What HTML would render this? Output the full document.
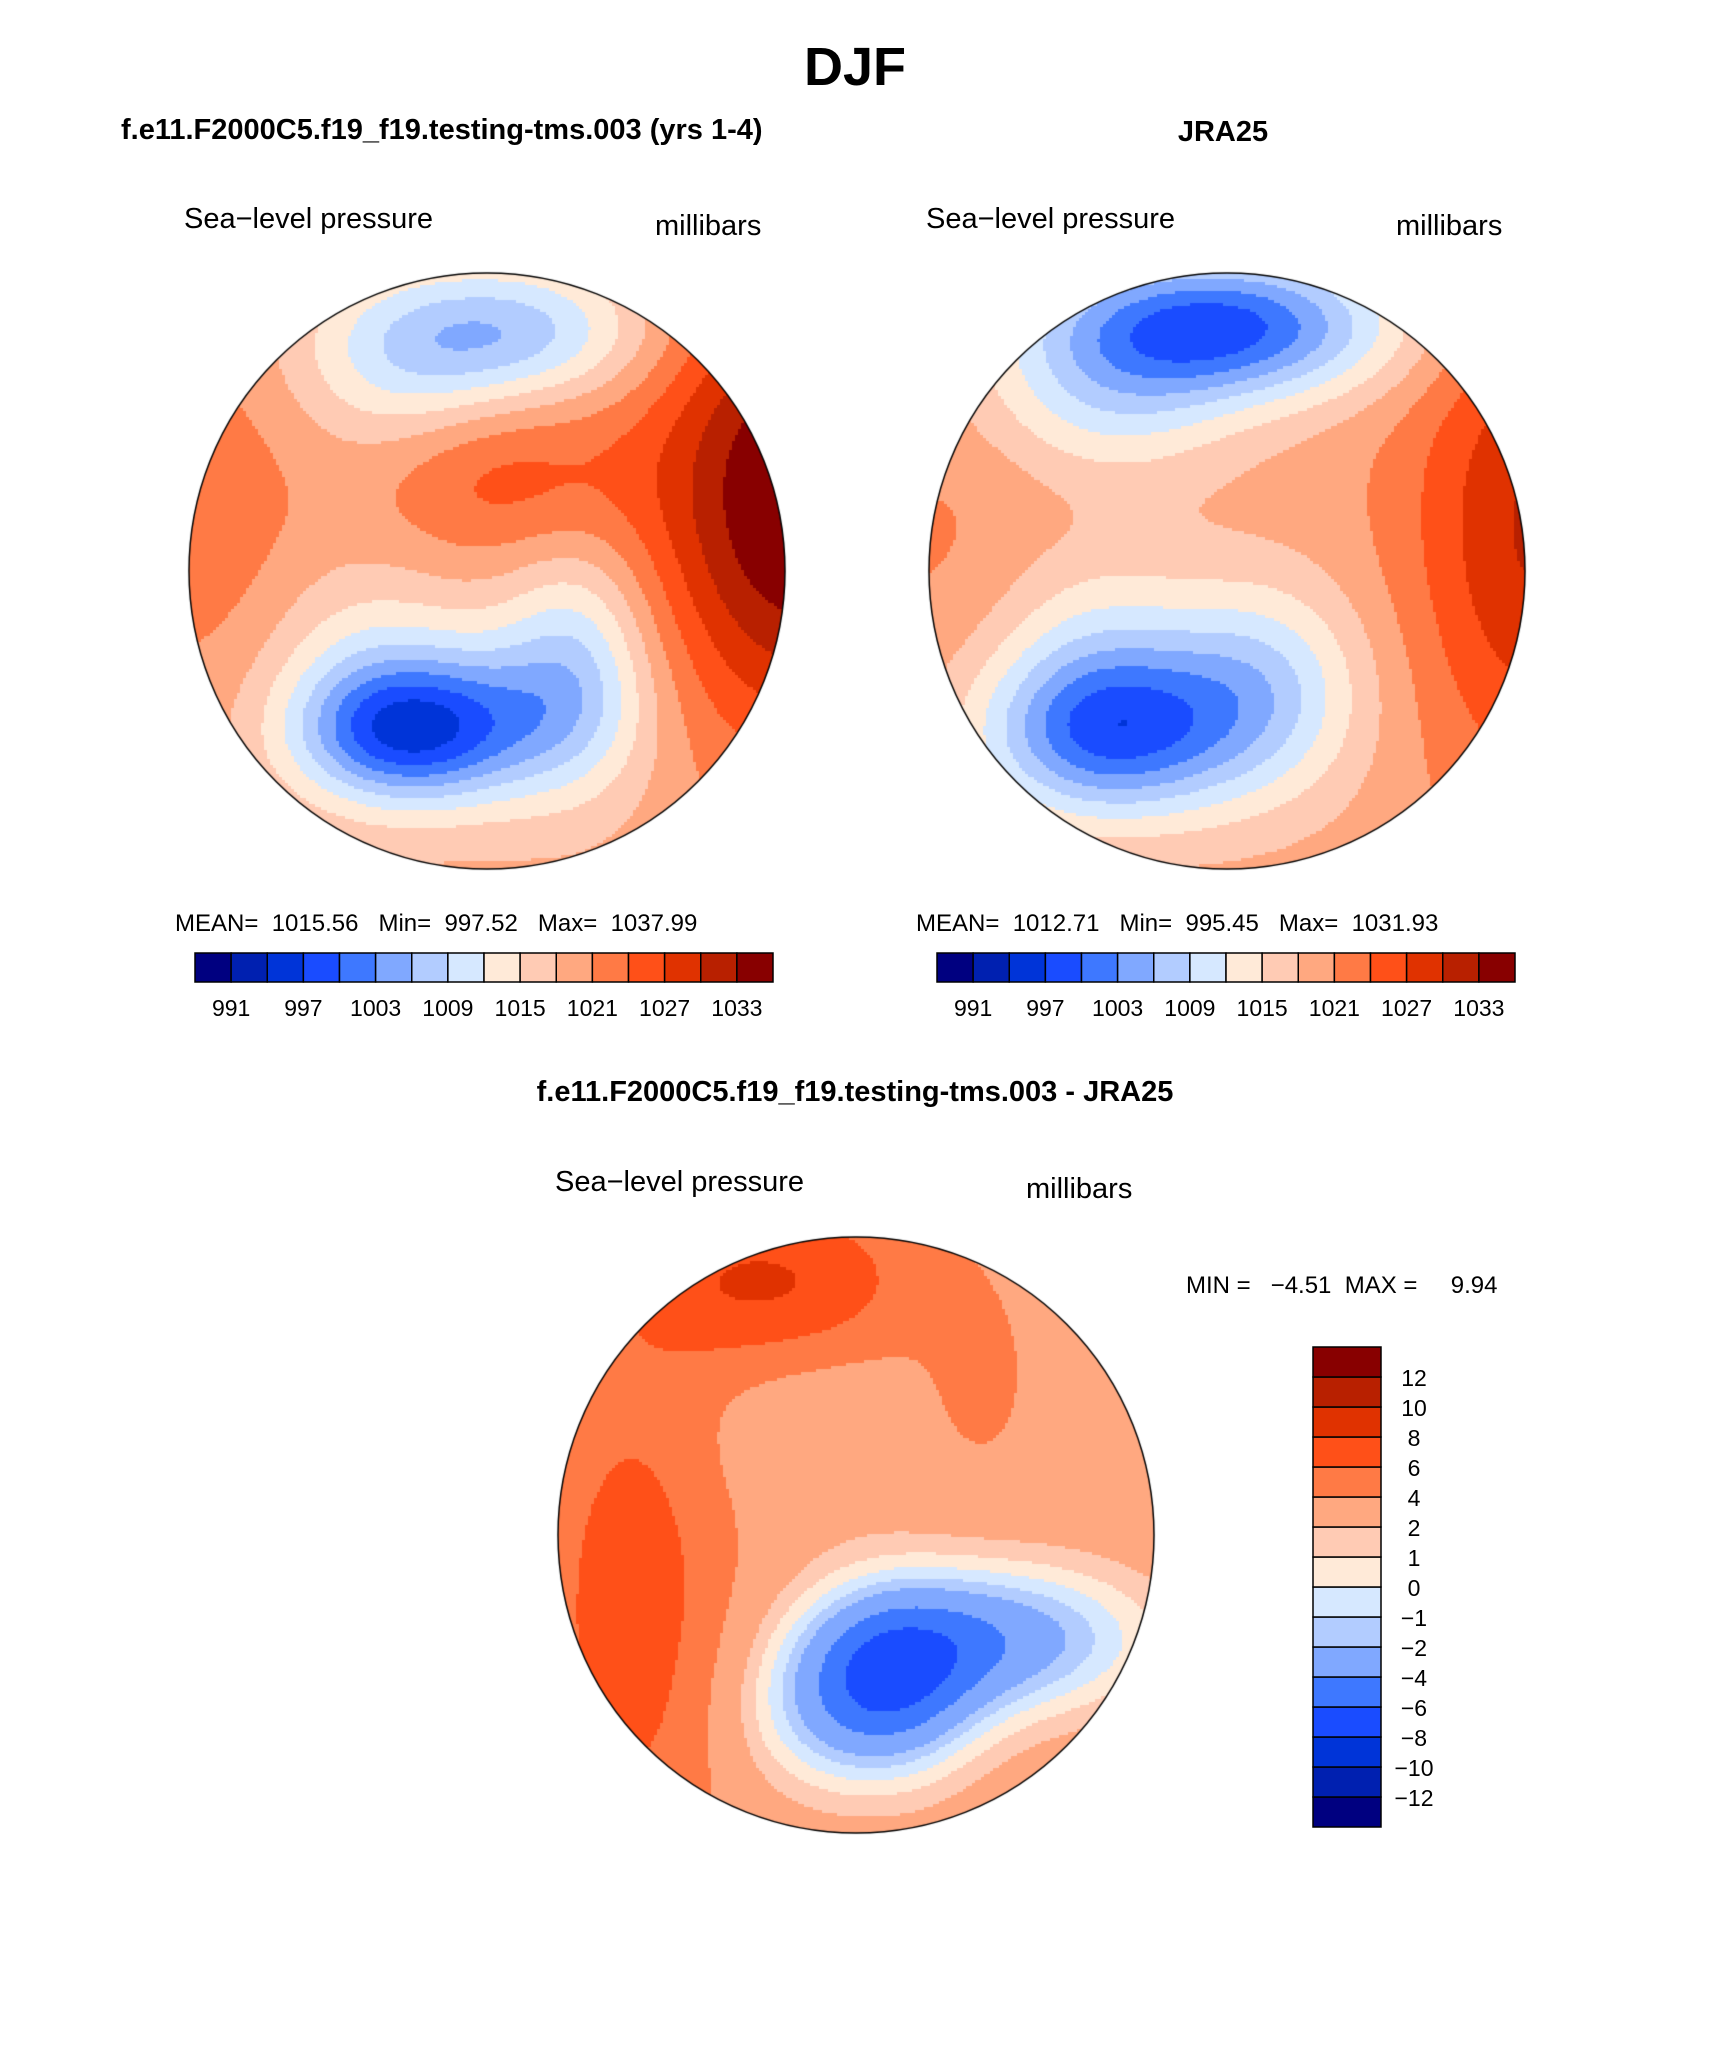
<!DOCTYPE html>
<html><head><meta charset="utf-8">
<style>
html,body{margin:0;padding:0;background:#fff;}
#page{position:relative;width:1710px;height:2061px;overflow:hidden;font-family:"Liberation Sans",sans-serif;color:#000;}
.t{position:absolute;white-space:nowrap;}
.b{font-weight:bold;}
canvas{position:absolute;}
</style></head>
<body>
<div id="page">
<div class="t b" style="left:0;width:1710px;text-align:center;top:36px;font-size:54px;">DJF</div>
<div class="t b" style="left:121px;top:114px;font-size:29px;">f.e11.F2000C5.f19_f19.testing-tms.003 (yrs 1-4)</div>
<div class="t b" style="left:1123px;width:200px;text-align:center;top:116px;font-size:29px;">JRA25</div>
<div class="t" style="left:184px;top:203px;font-size:29px;">Sea−level pressure</div>
<div class="t" style="left:655px;top:210px;font-size:29px;">millibars</div>
<div class="t" style="left:926px;top:203px;font-size:29px;">Sea−level pressure</div>
<div class="t" style="left:1396px;top:210px;font-size:29px;">millibars</div>
<canvas id="m1" width="600" height="600" style="left:187px;top:271px;"></canvas>
<canvas id="m2" width="600" height="600" style="left:927px;top:271px;"></canvas>
<div class="t" style="left:175px;top:910px;font-size:24px;">MEAN=&nbsp; 1015.56&nbsp;&nbsp; Min=&nbsp; 997.52&nbsp;&nbsp; Max=&nbsp; 1037.99</div>
<div class="t" style="left:916px;top:910px;font-size:24px;">MEAN=&nbsp; 1012.71&nbsp;&nbsp; Min=&nbsp; 995.45&nbsp;&nbsp; Max=&nbsp; 1031.93</div>
<svg id="cb1" style="position:absolute;left:0;top:0" width="1710" height="2061"></svg>
<div class="t b" style="left:0;width:1710px;text-align:center;top:1076px;font-size:29px;">f.e11.F2000C5.f19_f19.testing-tms.003 - JRA25</div>
<div class="t" style="left:555px;top:1166px;font-size:29px;">Sea−level pressure</div>
<div class="t" style="left:1026px;top:1173px;font-size:29px;">millibars</div>
<canvas id="m3" width="600" height="600" style="left:556px;top:1235px;"></canvas>
<div class="t" style="left:1186px;top:1272px;font-size:24px;">MIN =&nbsp;&nbsp; −4.51&nbsp; MAX =&nbsp;&nbsp;&nbsp;&nbsp; 9.94</div>
</div>
<script>
const colors=["#000080","#0020b0","#0034d8","#1a4cff","#3e78ff","#80a8ff","#b2ccff","#d6e8ff","#ffead8","#ffcbb4","#ffa880","#ff7a45","#ff5018","#e03200","#b82000","#880000"];
const slpLevels=[991,994,997,1000,1003,1006,1009,1012,1015,1018,1021,1024,1027,1030,1033];
const slpTickLabels=["991","997","1003","1009","1015","1021","1027","1033"];
const diffLevels=[-12,-10,-8,-6,-4,-2,-1,0,1,2,4,6,8,10,12];
const diffTickLabels=["−12","−10","−8","−6","−4","−2","−1","0","1","2","4","6","8","10","12"];
// pressure systems: [u, v, amplitude, sigmaU, sigmaV]
const modelBase=1019;
const modelCenters=[[-0.3,0.55,-14,0.25,0.16],[0.0,0.5,-10,0.3,0.2],[0.3,0.3,-9,0.18,0.28],[-0.4,0.35,-6,0.25,0.25],[0.05,-0.8,-12,0.35,0.16],[-0.3,-0.65,-5,0.25,0.2],[1.05,-0.25,18,0.35,0.55],[0.05,-0.3,6,0.3,0.2],[-0.95,-0.2,4,0.25,0.45]];
const obsBase=1019.5;
const obsCenters=[[-0.4,0.55,-18,0.3,0.2],[0.1,0.4,-11,0.25,0.25],[-0.45,0.25,-6,0.25,0.25],[-0.05,-0.82,-21,0.42,0.17],[-0.4,-0.55,-7,0.3,0.18],[1.05,-0.15,11,0.3,0.6],[-0.95,-0.1,2,0.3,0.4]];
const diffBase=3.2;
const diffCenters=[[0.1,0.5,-8,0.22,0.22],[0.5,0.35,-6,0.35,0.18],[-0.2,0.6,-2,0.2,0.2],[-0.75,0.25,4,0.22,0.6],[-0.3,-0.85,5,0.35,0.2],[0.4,-0.5,1.5,0.12,0.2],[-0.1,-0.35,-1.2,0.25,0.2]];

function field(base,cs,u,v){let s=base;for(const c of cs){const du=(u-c[0])/c[3],dv=(v-c[1])/c[4];s+=c[2]*Math.exp(-0.5*(du*du+dv*dv));}return s;}
function levelIndex(levels,val){let i=0;while(i<levels.length&&val>=levels[i])i++;return i;}
function drawMap(id,base,cs,levels){
  const cv=document.getElementById(id),ctx=cv.getContext('2d');
  const R=298,cx=300,cy=300,step=3;
  ctx.save();ctx.beginPath();ctx.arc(cx,cy,R,0,Math.PI*2);ctx.clip();
  for(let y=cy-R;y<cy+R;y+=step)for(let x=cx-R;x<cx+R;x+=step){
    const u=(x+step/2-cx)/R,v=(y+step/2-cy)/R;
    ctx.fillStyle=colors[levelIndex(levels,field(base,cs,u,v))];
    ctx.fillRect(x,y,step,step);
  }
  ctx.restore();
  ctx.beginPath();ctx.arc(cx,cy,R,0,Math.PI*2);ctx.lineWidth=1.5;ctx.strokeStyle="#000";ctx.stroke();
}
drawMap('m1',modelBase,modelCenters,slpLevels);
drawMap('m2',obsBase,obsCenters,slpLevels);
drawMap('m3',diffBase,diffCenters,diffLevels);

const svg=document.getElementById('cb1');const NS="http://www.w3.org/2000/svg";
function hbar(x0,y0,w,h,name){
  const bw=w/colors.length;
  colors.forEach((c,i)=>{const r=document.createElementNS(NS,'rect');
    r.setAttribute('x',x0+i*bw);r.setAttribute('y',y0);r.setAttribute('width',bw);r.setAttribute('height',h);
    r.setAttribute('fill',c);r.setAttribute('stroke','#000');r.setAttribute('stroke-width','1.5');
    
    
    svg.appendChild(r);});
  slpTickLabels.forEach((l,k)=>{const t=document.createElementNS(NS,'text');
    t.setAttribute('x',x0+(2*k+1)*bw);t.setAttribute('y',y0+h+34);t.setAttribute('text-anchor','middle');
    t.setAttribute('font-size','23');t.setAttribute('font-family','Liberation Sans, sans-serif');t.textContent=l;
    
    
    svg.appendChild(t);});
}
hbar(195,953,578,29,'left-colorbar');
hbar(937,953,578,29,'right-colorbar');
(function(){const x0=1313,y0=1347,w=68,h=480,bh=h/colors.length;
  colors.forEach((c,i)=>{const r=document.createElementNS(NS,'rect');
    r.setAttribute('x',x0);r.setAttribute('y',y0+(colors.length-1-i)*bh);r.setAttribute('width',w);r.setAttribute('height',bh);
    r.setAttribute('fill',c);r.setAttribute('stroke','#000');r.setAttribute('stroke-width','1.5');
    
    
    svg.appendChild(r);});
  diffTickLabels.forEach((l,i)=>{const t=document.createElementNS(NS,'text');
    t.setAttribute('x',1414);t.setAttribute('y',y0+(colors.length-1-i)*bh+9);t.setAttribute('text-anchor','middle');
    t.setAttribute('font-size','23');t.setAttribute('font-family','Liberation Sans, sans-serif');t.textContent=l;
    
    
    svg.appendChild(t);});
})();
</script>
</body></html>
